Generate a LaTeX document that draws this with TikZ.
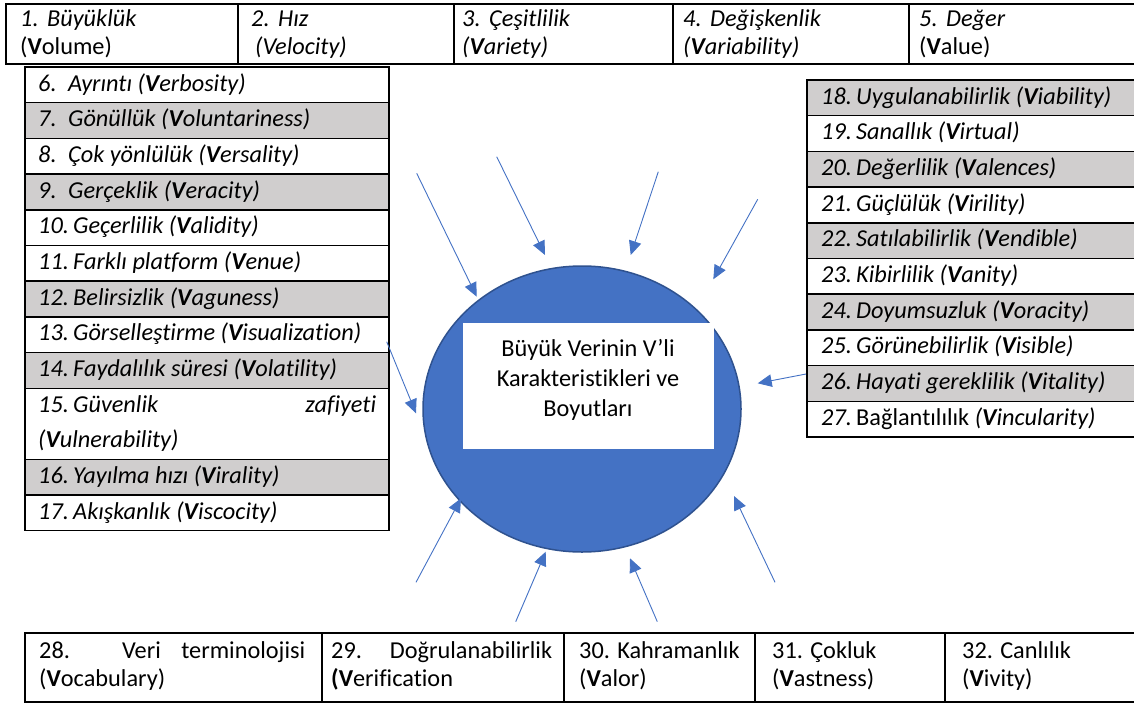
\documentclass[tikz,border=0pt]{standalone}
\usepackage{fontspec}
\setmainfont[Ligatures={NoCommon}]{Carlito}
\usetikzlibrary{arrows.meta,shapes.geometric}
\definecolor{vblue}{HTML}{4472C4}
\definecolor{vborder}{HTML}{2F528F}
\definecolor{rowgray}{HTML}{D0CECE}
\newcommand\vnumS[1]{\makebox[30pt][l]{#1}}
\newcommand\vnumD[1]{\makebox[35pt][l]{#1}}
\newcommand\vnumT[1]{\makebox[27pt][l]{#1}}
\begin{document}
\begin{tikzpicture}[x=1pt,y=-1pt,
  grid/.style={draw=black,line width=1.5pt},
  shaderow/.style={fill=rowgray},
  txt/.style={anchor=base west,inner sep=0pt,font=\fontsize{24.3}{28}\selectfont},
  ltxt/.style={anchor=base west,inner sep=0pt,font=\fontsize{24.3}{35.5}\selectfont\itshape},
  arr/.style={draw=vblue,line width=0.9pt,-{Triangle[length=14pt,width=12.5pt]}}]
\useasboundingbox (0,0) rectangle (1134,704);

% ---------- top table ----------
\draw[grid] (6,4) rectangle (1140,64);
\foreach \x in {238,454,673,909} \draw[grid] (\x,4) -- (\x,64);
\node[txt] (c1) at (20,27) {\parbox[t]{210pt}{\textit{\vnumT{1.}Büyüklük}\\(\textbf{V}olume)}};
\node[txt] (c2) at (251,27) {\parbox[t]{195pt}{\textit{\vnumT{2.}Hız}\\\hspace*{4pt}\textit{(Velocity)}}};
\node[txt] (c3) at (462,27) {\parbox[t]{205pt}{\textit{\vnumT{3.}Çeşitlilik}\\\textit{(\textbf{V}ariety)}}};
\node[txt] (c4) at (683,27) {\parbox[t]{220pt}{\textit{\vnumT{4.}Değişkenlik}\\\textit{(\textbf{V}ariability)}}};
\node[txt] (c5) at (919,27) {\parbox[t]{200pt}{\textit{\vnumT{5.}Değer}\\(\textbf{V}alue)}};

% ---------- left list ----------
\foreach \a/\b in {102.7/138.4,174.1/209.8,281.2/316.9,352.6/388.3,459.3/495}
  \fill[shaderow] (25,\a) rectangle (389,\b);
\draw[grid] (25,67) rectangle (389,530.7);
\foreach \y in {102.7,138.4,174.1,209.8,245.5,281.2,316.9,352.6,388.3,459.3,495}
  \draw[grid] (25,\y) -- (389,\y);
\node[ltxt] (l6)  at (38,91)    {\vnumS{6.}Ayrıntı (\textbf{V}erbosity)};
\node[ltxt] (l7)  at (38,126.7) {\vnumS{7.}Gönüllük (\textbf{V}oluntariness)};
\node[ltxt] (l8)  at (38,162.4) {\vnumS{8.}Çok yönlülük (\textbf{V}ersality)};
\node[ltxt] (l9)  at (38,198.1) {\vnumS{9.}Gerçeklik (\textbf{V}eracity)};
\node[ltxt] (l10) at (38,233.8) {\vnumD{10.}Geçerlilik (\textbf{V}alidity)};
\node[ltxt] (l11) at (38,269.5) {\vnumD{11.}Farklı platform (\textbf{V}enue)};
\node[ltxt] (l12) at (38,305.2) {\vnumD{12.}Belirsizlik (\textbf{V}aguness)};
\node[ltxt] (l13) at (38,340.9) {\vnumD{13.}Görselleştirme (\textbf{V}isualization)};
\node[ltxt] (l14) at (38,376.6) {\vnumD{14.}Faydalılık süresi (\textbf{V}olatility)};
\node[ltxt] (l15) at (38,412.3) {\parbox[t]{338pt}{\makebox[338pt][l]{\vnumD{15.}Güvenlik\hfill zafiyeti}\\(\textbf{V}ulnerability)}};
\node[ltxt] (l16) at (38,483.3) {\vnumD{16.}Yayılma hızı (\textbf{V}irality)};
\node[ltxt] (l17) at (38,519)   {\vnumD{17.}Akışkanlık (\textbf{V}iscocity)};

% ---------- right list ----------
\foreach \a/\b in {80/115.7,151.4/187.1,222.8/258.5,294.2/329.9,365.6/401.3}
  \fill[shaderow] (807,\a) rectangle (1140,\b);
\draw[grid] (807,80) rectangle (1140,437);
\foreach \y in {115.7,151.4,187.1,222.8,258.5,294.2,329.9,365.6,401.3}
  \draw[grid] (807,\y) -- (1140,\y);
\node[ltxt] (r18) at (821,104)   {\vnumD{18.}Uygulanabilirlik (\textbf{V}iability)};
\node[ltxt] (r19) at (821,139.7) {\vnumD{19.}Sanallık (\textbf{V}irtual)};
\node[ltxt] (r20) at (821,175.4) {\vnumD{20.}Değerlilik (\textbf{V}alences)};
\node[ltxt] (r21) at (821,211.1) {\vnumD{21.}Güçlülük (\textbf{V}irility)};
\node[ltxt] (r22) at (821,246.8) {\vnumD{22.}Satılabilirlik (\textbf{V}endible)};
\node[ltxt] (r23) at (821,282.5) {\vnumD{23.}Kibirlilik (\textbf{V}anity)};
\node[ltxt] (r24) at (821,318.2) {\vnumD{24.}Doyumsuzluk (\textbf{V}oracity)};
\node[ltxt] (r25) at (821,353.9) {\vnumD{25.}Görünebilirlik (\textbf{V}isible)};
\node[ltxt] (r26) at (821,389.6) {\vnumD{26.}Hayati gereklilik (\textbf{V}itality)};
\node[ltxt] (r27) at (821,425.3) {\vnumD{27.}\upshape Bağlantılılık \itshape(\textbf{V}incularity)};

% ---------- bottom table ----------
\draw[grid] (25,633) rectangle (1140,702);
\foreach \x in {322,564,755,945} \draw[grid] (\x,633) -- (\x,702);
\node[txt] (b28) at (39,658) {\parbox[t]{266pt}{\makebox[266pt][s]{28. Veri terminolojisi}\\(\textbf{V}ocabulary)}};
\node[txt] (b29) at (331,658) {\parbox[t]{221pt}{\makebox[221pt][s]{29. Doğrulanabilirlik}\\\textbf{(V}erification}};
\node[txt] (b30) at (579,658) {\parbox[t]{170pt}{30. Kahramanlık\\(\textbf{V}alor)}};
\node[txt] (b31) at (772,658) {\parbox[t]{170pt}{31. Çokluk\\(\textbf{V}astness)}};
\node[txt] (b32) at (962,658) {\parbox[t]{170pt}{32. Canlılık\\(\textbf{V}ivity)}};

% ---------- centre ----------
\node[ellipse,draw=vborder,fill=vblue,line width=1.5pt,inner sep=0pt,
      minimum width=318pt,minimum height=286pt] (hub) at (582,409) {};
\node[fill=white,inner sep=0pt,minimum width=251pt,minimum height=126pt] (box) at (588.4,386.2) {};
\node[anchor=base,inner sep=0pt,font=\fontsize{24.3}{30}\selectfont] (title) at (588,356.7)
  {\parbox[t]{240pt}{\centering Büyük Verinin V’li\\Karakteristikleri ve\\Boyutları}};

% ---------- arrows ----------
\coordinate (a1) at (416.7,173.3); \coordinate (h1) at (476.7,296.7);
\coordinate (a2) at (496.7,156.7); \coordinate (h2) at (545,255);
\coordinate (a3) at (658.3,171.7); \coordinate (h3) at (630.7,255);
\coordinate (a4) at (757.7,199.3); \coordinate (h4) at (713.3,279.3);
\coordinate (a5) at (386.7,341.7); \coordinate (h5) at (416,413.3);
\coordinate (a6) at (806,374);     \coordinate (h6) at (757.7,383.3);
\coordinate (a7) at (416,582.3);   \coordinate (h7) at (461,498.3);
\coordinate (a8) at (515.7,621.7); \coordinate (h8) at (545.7,551.7);
\coordinate (a9) at (657.3,621.7); \coordinate (h9) at (630,558.3);
\coordinate (a10) at (775,582.3);  \coordinate (h10) at (734,496);
\foreach \i in {1,...,10} \draw[arr] (a\i) -- (h\i);
\end{tikzpicture}
\end{document}
